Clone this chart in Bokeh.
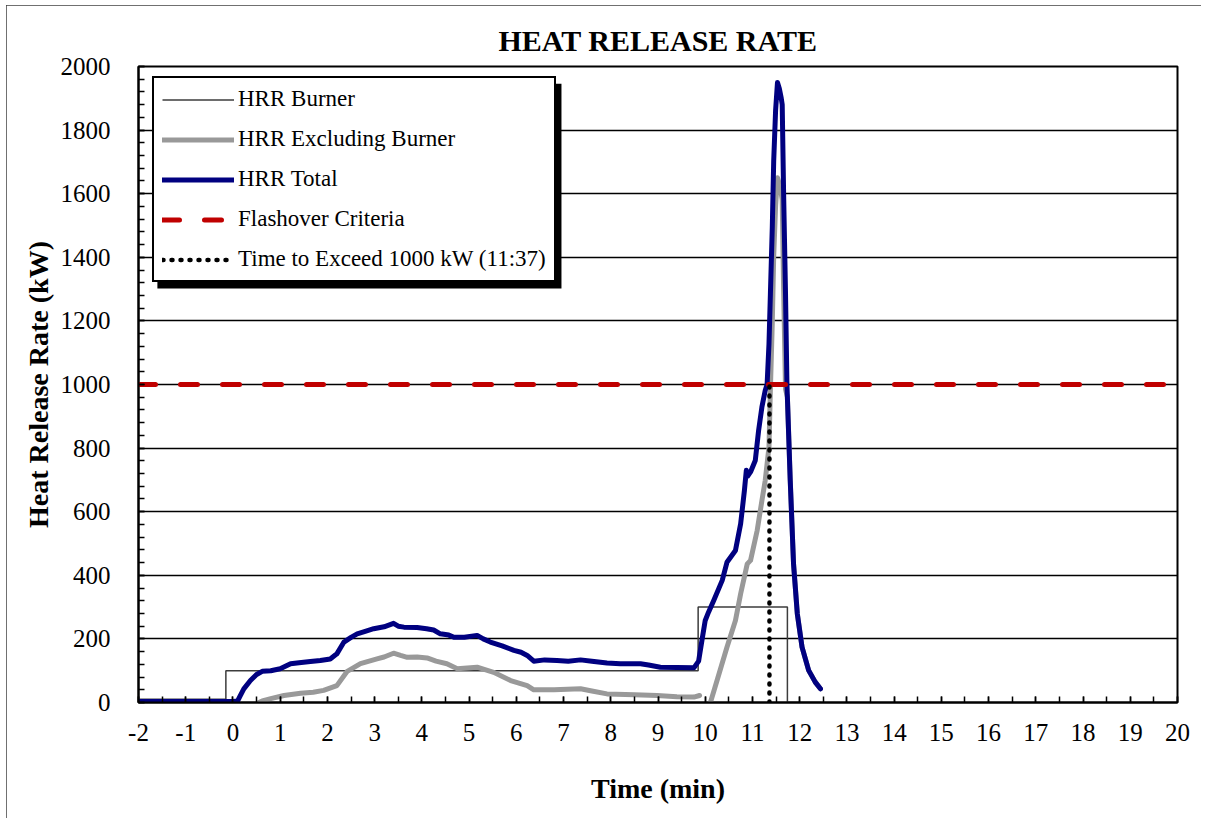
from bokeh.plotting import figure
from bokeh.models import Legend, LegendItem, SingleIntervalTicker, BoxAnnotation, Range1d
from bokeh.embed import file_html
from bokeh.resources import INLINE

# ---------------- data ----------------
burner_t = [-2.0, -0.15, -0.15, 9.85, 9.85, 11.74, 11.74, 12.45]
burner_kw = [10, 10, 100, 100, 300, 300, 0, 0]

excl_t = [0.55, 0.62, 0.8, 1.08, 1.43, 1.7, 1.92, 2.2, 2.42, 2.7, 3.05, 3.2, 3.4, 3.55,
          3.69, 3.9, 4.11, 4.3, 4.53, 4.75, 5.17, 5.52, 5.88, 6.23, 6.37, 6.8, 7.36, 7.6,
          7.92, 8.5, 8.98, 9.4, 9.76, 9.88, 9.95,
          10.11, 10.25, 10.46, 10.64, 10.75, 10.89, 10.96, 11.1, 11.2, 11.27, 11.35, 11.38,
          11.42, 11.45, 11.49, 11.53, 11.57, 11.61, 11.63, 11.66, 11.7, 11.74, 11.8,
          11.87, 11.95, 12.05, 12.19, 12.33, 12.44]
excl_kw = [0, 5, 12, 22, 29, 32, 38, 53, 98, 122, 137, 143, 155, 148,
           142, 143, 140, 130, 122, 106, 111, 95, 69, 53, 40, 40, 43, 36,
           27, 24, 22, 18, 17, 22, float("nan"),
           0, 69, 174, 258, 342, 436, 447, 541, 635, 698, 803, 985,
           1195, 1404, 1562, 1650, 1630, 1600, 1580, 1300, 985, 960, 698,
           436, 279, 174, 101, 64, 43]

total_t = [-2.0, 0.0, 0.1, 0.15, 0.23, 0.37, 0.5, 0.62, 0.8, 1.0, 1.22, 1.4, 1.64, 1.85,
           2.06, 2.2, 2.35, 2.5, 2.63, 2.8, 2.98, 3.2, 3.4, 3.5, 3.62, 3.9, 4.1, 4.25,
           4.39, 4.57, 4.68, 4.9, 5.17, 5.3, 5.45, 5.7, 5.95, 6.1, 6.23, 6.37, 6.6, 6.86,
           7.1, 7.36, 7.6, 7.92, 8.2, 8.63, 8.8, 9.05, 9.4, 9.76, 9.86, 9.93, 10.0, 10.07,
           10.18, 10.36, 10.46, 10.64, 10.75, 10.83, 10.87, 10.9, 10.96, 11.06, 11.13, 11.2,
           11.27, 11.31, 11.35, 11.38, 11.42, 11.45, 11.49, 11.53, 11.57, 11.61, 11.63,
           11.66, 11.7, 11.73, 11.8, 11.87, 11.95, 12.05, 12.19, 12.33, 12.44]
total_kw = [3, 3, 5, 20, 43, 69, 88, 98, 100, 106, 122, 125, 129, 132,
            137, 153, 190, 205, 216, 224, 232, 238, 249, 240, 237, 236, 232, 228,
            216, 212, 205, 205, 211, 200, 190, 178, 164, 158, 148, 130, 134, 132,
            130, 134, 130, 124, 122, 122, 118, 111, 110, 109, 130, 195, 258, 284,
            321, 384, 441, 478, 562, 667, 730, 712, 725, 761, 855, 929,
            981, 1000, 1128, 1285, 1495, 1704, 1862, 1950, 1930, 1900, 1880,
            1600, 1285, 1002, 698, 436, 279, 174, 101, 64, 43]

flash_t = [-2, 20]
flash_kw = [1000, 1000]

cross_t = [11.36, 11.36]
cross_kw = [0, 1000]

x_ticks = list(range(-2, 21))
x_tick_labels = [str(v) for v in x_ticks]

series_labels = ["HRR Burner", "HRR Excluding Burner", "HRR Total",
                 "Flashover Criteria", "Time to Exceed 1000 kW (11:37)"]

SERIF = "Liberation Serif"

# ---------------- figure ----------------
p = figure(frame_width=1039, frame_height=636,
           x_range=Range1d(-2, 20), y_range=Range1d(0, 2000),
           output_backend="svg", toolbar_location=None,
           min_border_left=132, min_border_right=24,
           min_border_top=61, min_border_bottom=116,
           title="HEAT RELEASE RATE")
p.styles = {"outline": "1px solid #404040", "outline-offset": "-1px",
            "margin-left": "6px", "margin-top": "5px"}

p.title.text_font = SERIF
p.title.text_font_size = "30px"
p.title.text_font_style = "bold"
p.title.align = "center"
p.title.text_color = "black"
p.title.standoff = 19

p.background_fill_color = "white"
p.border_fill_color = "white"
p.outline_line_color = "black"
p.outline_line_width = 2
p.outline_line_alpha = 1

# axes
p.xaxis.ticker = SingleIntervalTicker(interval=1, num_minor_ticks=2)
p.yaxis.ticker = SingleIntervalTicker(interval=200, num_minor_ticks=5)
p.xaxis.major_label_overrides = {t: s for t, s in zip(x_ticks, x_tick_labels)}
p.xaxis.axis_label = "Time (min)"
p.yaxis.axis_label = "Heat Release Rate (kW)"
for ax in (p.xaxis, p.yaxis):
    ax.axis_line_color = "black"
    ax.axis_line_width = 2
    ax.major_tick_line_color = "black"
    ax.minor_tick_line_color = "black"
    ax.major_tick_line_width = 1.5
    ax.minor_tick_line_width = 1.5
    ax.major_tick_in = 6
    ax.major_tick_out = 0
    ax.minor_tick_in = 6
    ax.minor_tick_out = 0
    ax.major_label_text_font = SERIF
    ax.major_label_text_font_size = "25px"
    ax.major_label_text_color = "black"
    ax.axis_label_text_font = SERIF
    ax.axis_label_text_font_size = "28px"
    ax.axis_label_text_font_style = "bold"
    ax.axis_label_text_color = "black"
p.xaxis.major_label_standoff = 21
p.xaxis.axis_label_standoff = 29
p.yaxis.major_label_standoff = 28
p.yaxis.axis_label_standoff = 4

p.xgrid.visible = False
p.ygrid.grid_line_color = "black"
p.ygrid.grid_line_width = 1.4
p.ygrid.grid_line_alpha = 1

# series
r_burner = p.line(burner_t, burner_kw, line_color="#3c3c3c", line_width=1.5)
r_excl = p.line(excl_t, excl_kw, line_color="#999999", line_width=5,
                line_join="round", line_cap="round")
r_total = p.line(total_t, total_kw, line_color="#000080", line_width=5,
                 line_join="round", line_cap="round")
r_flash = p.line(flash_t, flash_kw, line_color="#C00000", line_width=5,
                 line_dash="17 25", line_cap="round")
r_cross = p.line(cross_t, cross_kw, line_color="black", line_width=4.5,
                 line_dash="1 8", line_cap="round")

# legend shadow
shadow = BoxAnnotation(left=-1.60, right=6.956, bottom=1302, top=1946,
                       fill_color="black", fill_alpha=1, line_alpha=0)
p.add_layout(shadow)

legend = Legend(items=[LegendItem(label=lab, renderers=[r]) for lab, r in
                       zip(series_labels, [r_burner, r_excl, r_total, r_flash, r_cross])],
                location=(14, 420), margin=0, padding=8, spacing=14,
                glyph_width=72, glyph_height=25, label_height=25, label_standoff=4,
                label_text_font=SERIF, label_text_font_size="23px",
                label_text_color="black",
                border_line_color="black", border_line_width=2, border_line_alpha=1,
                background_fill_color="white", background_fill_alpha=1)
p.add_layout(legend)

open("out.html", "w").write(file_html(p, INLINE))
